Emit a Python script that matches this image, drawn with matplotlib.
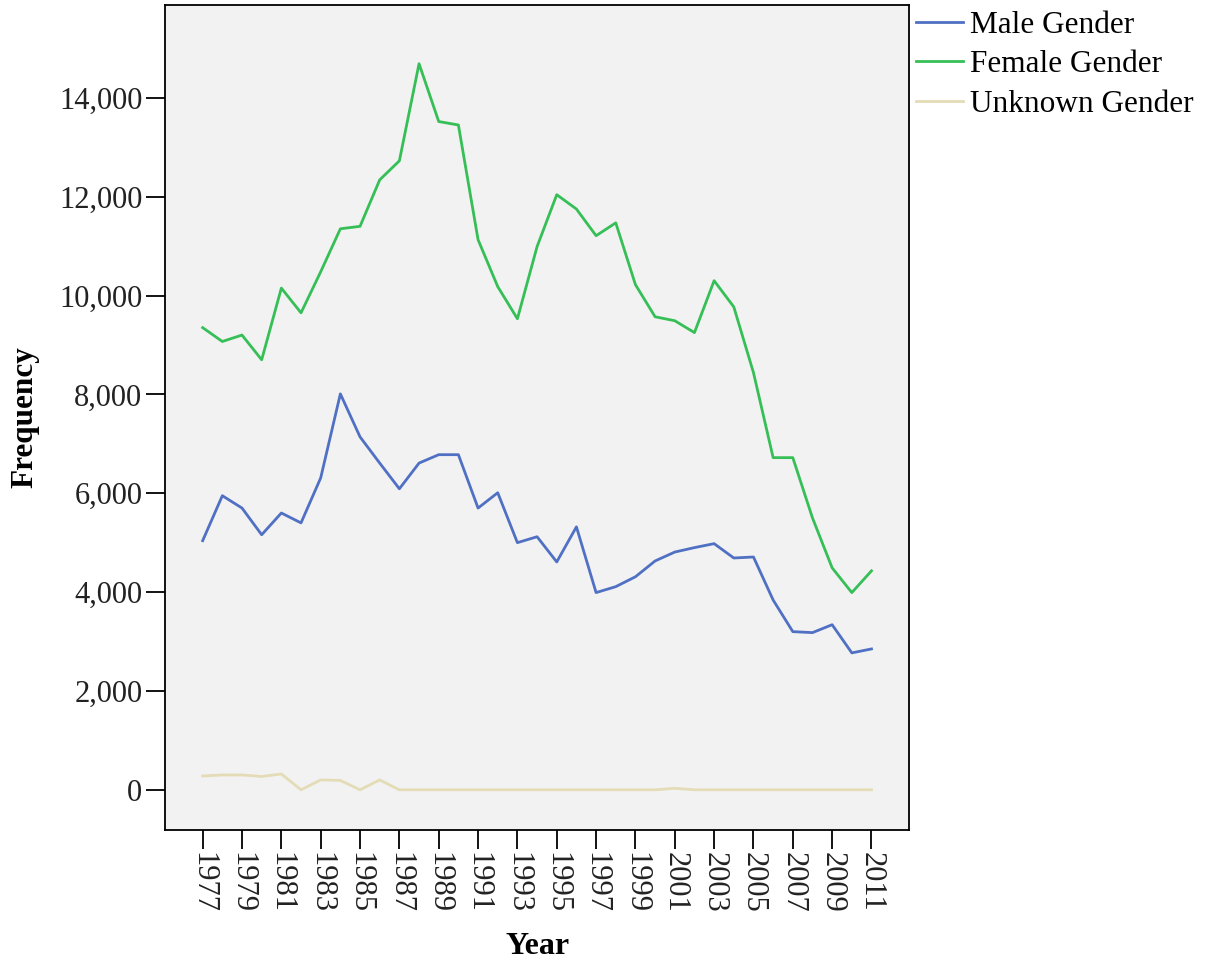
import matplotlib.pyplot as plt
import numpy as np

plt.rcParams['font.family'] = ['Liberation Serif', 'DejaVu Serif']

years = list(range(1977, 2012))
male = [5040, 5950, 5700, 5160, 5600, 5400, 6310, 8010, 7140, 6610,
        6090, 6610, 6780, 6780, 5700, 6010, 5000, 5120, 4610, 5320,
        3990, 4110, 4310, 4630, 4810, 4900, 4980, 4690, 4710, 3840,
        3200, 3180, 3340, 2770, 2850]
female = [9350, 9070, 9200, 8700, 10150, 9650, 10480, 11350, 11400, 12340,
          12725, 14690, 13520, 13450, 11130, 10180, 9530, 10990, 12040, 11750,
          11210, 11470, 10220, 9570, 9490, 9250, 10300, 9770, 8440, 6720,
          6720, 5500, 4490, 3990, 4430]
unknown = [280, 300, 300, 270, 320, 0, 200, 190, 0, 200,
           0, 0, 0, 0, 0, 0, 0, 0, 0, 0,
           0, 0, 0, 0, 30, 0, 0, 0, 0, 0,
           0, 0, 0, 0, 0]
names = ['Male Gender', 'Female Gender', 'Unknown Gender']
colors = ['#5070c4', '#36bf56', '#e4dcb6']

fig = plt.figure(figsize=(12.11, 9.66), dpi=100)
ax = fig.add_axes([0.136, 0.141, 0.615, 0.854])
ax.set_facecolor('#f2f2f2')

for vals, name, c in zip([male, female, unknown], names, colors):
    ax.plot(years, vals, color=c, lw=2.0, label=name)

ax.set_xlim(1975.07, 2012.93)
ax.set_ylim(-809, 15881)
ax.set_xticks(years[::2])
ax.set_xticklabels([str(y) for y in years[::2]], rotation=-90)
ax.set_yticks(np.arange(0, 14001, 2000))
ax.set_yticklabels(['{:,}'.format(v) for v in range(0, 14001, 2000)])
ax.tick_params(axis='both', labelsize=22, length=14, width=1.3, pad=2,
               labelcolor='#222222', direction='out')
for s in ax.spines.values():
    s.set_linewidth(1.3)

ax.set_xlabel('Year', fontsize=23, fontweight='bold', labelpad=14)
ax.set_ylabel('Frequency', fontsize=22.5, fontweight='bold', labelpad=14)

ax.legend(loc='upper left', bbox_to_anchor=(1.0, 1.0), frameon=False,
          fontsize=22.5, handlelength=1.5, handletextpad=0.25,
          labelspacing=0.33, borderaxespad=0.0, borderpad=0.2)

fig.savefig('out.png', dpi=100)
